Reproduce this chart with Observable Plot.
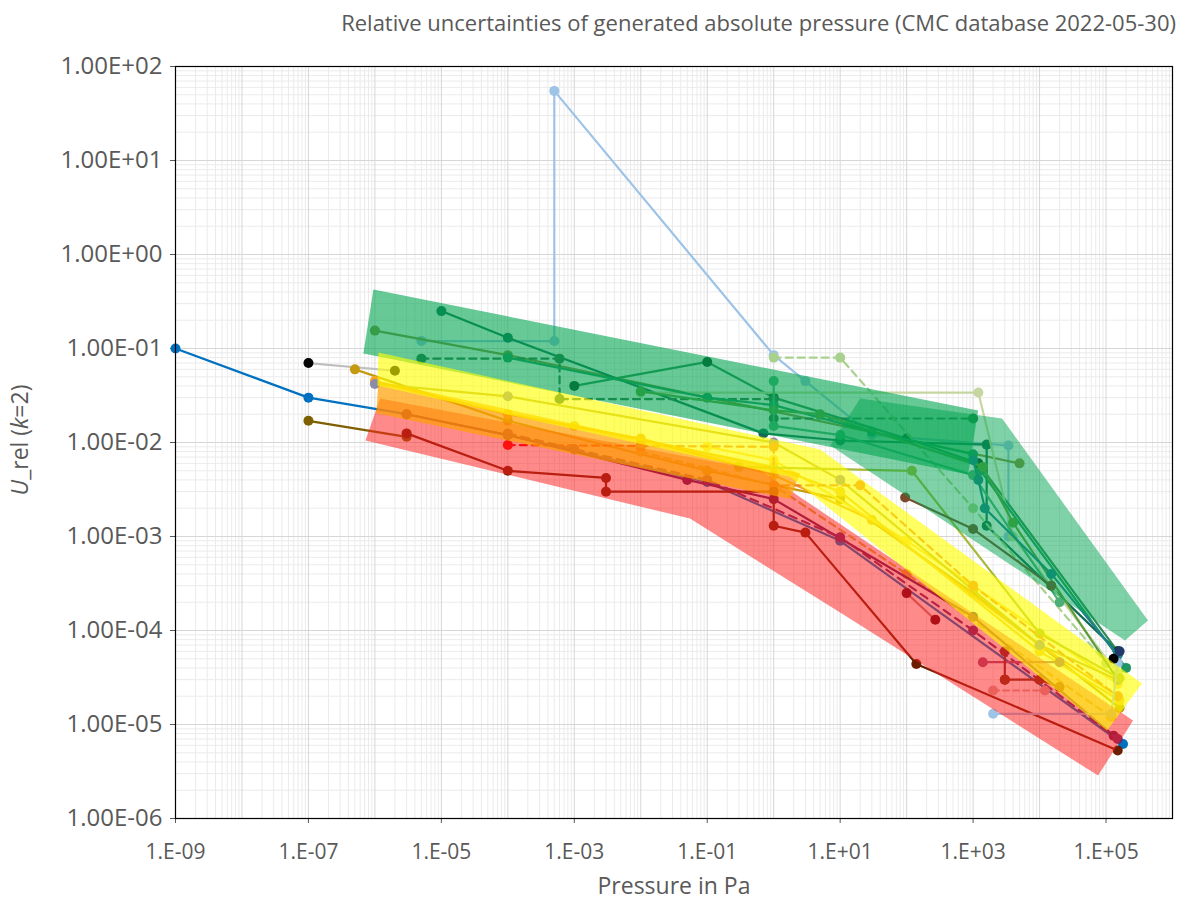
<!DOCTYPE html>
<html>
<head>
<meta charset="utf-8">
<script src="https://cdn.jsdelivr.net/npm/d3@7"></script>
<script src="https://cdn.jsdelivr.net/npm/@observablehq/plot@0.6"></script>
<style>
  html, body { margin: 0; padding: 0; background: #fff; }
  #title { height: 44px; line-height: 44px; text-align: right; padding-right: 8px; white-space: nowrap;
           font-family: "Open Sans", sans-serif; font-size: 22px; color: #595959; box-sizing: border-box; }
</style>
</head>
<body>
<div id="title">Relative uncertainties of generated absolute pressure (CMC database 2022-05-30)</div>
<div id="chart"></div>
<script>
// ---------- axis ticks ----------
const xTickValues = [1e-9, 1e-7, 1e-5, 1e-3, 1e-1, 1e1, 1e3, 1e5];
const xTickLabels = ["1.E-09", "1.E-07", "1.E-05", "1.E-03", "1.E-01", "1.E+01", "1.E+03", "1.E+05"];
const yTickValues = [1e-6, 1e-5, 1e-4, 1e-3, 1e-2, 1e-1, 1e0, 1e1, 1e2];
const yTickLabels = ["1.00E-06", "1.00E-05", "1.00E-04", "1.00E-03", "1.00E-02", "1.00E-01", "1.00E+00", "1.00E+01", "1.00E+02"];

// ---------- uncertainty bands (polygon corners: pressure Pa, U_rel) ----------
const bandGreenA = [[9.5e-7, 0.425], [1190, 0.0219], [840, 0.00457], [6.7e-7, 0.0885]];
const bandGreenB = [[20, 0.0294], [2730, 0.018], [4.28e5, 1.28e-4], [1.93e5, 7.83e-5], [7.1, 0.0093]];
const bandRed    = [[1.2e-6, 0.0294], [0.63, 0.00504], [2.55e5, 1.1e-5], [7.59e4, 2.86e-6], [10, 1.55e-4], [0.055, 0.00155], [7.2e-7, 0.0105]];
const bandOrange = [[1.13e-6, 0.045], [2.5, 0.0047], [1.77, 0.0025], [1.05e-6, 0.0205]];
const bandYellow = [[1.13e-6, 0.0906], [5, 0.00843], [3.48e5, 2.73e-5], [1.035e5, 8.63e-6], [1.77, 0.0043], [1.09e-6, 0.0404]];

// ---------- series (pressure Pa, U_rel k=2) ----------
const sBlue        = [[1e-9, 1e-1], [1e-7, 3e-2], [3e-6, 2e-2], [1e-4, 1.2e-2], [1e-1, 3.8e-3], [10, 9e-4], [1.8e5, 6.2e-6]];
const sPurple      = [[3e-6, 2e-2], [1e-4, 1.2e-2], [5e-2, 4e-3], [1, 2.5e-3], [1e3, 1.4e-4], [1.3e5, 7.6e-6]];
const sPurpleDash  = [[1e-4, 1.25e-2], [1e-3, 8.5e-3], [1e-1, 4e-3], [10, 9.8e-4], [1e3, 1e-4], [1.5e5, 7e-6]];
const sOlive       = [[1e-7, 1.7e-2], [3e-6, 1.15e-2]];
const sBrownRed    = [[3e-6, 1.25e-2], [1e-4, 5e-3], [3e-3, 4.2e-3], [3e-3, 3e-3], [1, 3e-3], [1, 1.3e-3], [3, 1.1e-3], [140, 4.4e-5], [1.5e5, 5.3e-6]];
const sLightBlue   = [[5e-6, 1.2e-1], [5e-4, 1.2e-1], [5e-4, 55], [1, 8.5e-2], [3, 4.5e-2], [30, 1.2e-2], [3.4e3, 9.3e-3], [3.4e3, 1e-3]];
const sTealDark    = [[1e-5, 0.25], [1e-4, 0.13], [0.7, 0.0125], [10, 0.0105], [1.6e3, 0.0095], [1.6e3, 0.0013], [1.5e5, 6e-5]];
const sGreenDark   = [[1e-3, 0.04], [0.1, 0.072], [1, 0.03], [100, 0.011], [1.2e3, 0.006], [1.5e5, 6e-5]];
const sGreenDash   = [[5e-6, 0.078], [6e-4, 0.078], [6e-4, 0.029], [1, 0.029], [1, 0.018], [1e3, 0.018]];
const sLightGreenD = [[1, 0.08], [10, 0.08], [1e3, 0.002], [1e5, 4.5e-5]];
const sPaleGreen   = [[1e-2, 0.034], [1.2e3, 0.034], [4e3, 0.001], [1.5e5, 3.5e-5]];
const sDarkOlive   = [[1e-6, 0.155], [1e-4, 0.085], [5e3, 0.006]];
const sSeaGreen    = [[1e-4, 0.08], [0.1, 0.03], [1, 0.025], [30, 0.013], [1e3, 0.0075], [1.3e3, 0.005], [2e5, 4e-5]];
const sFern        = [[1e-2, 0.035], [1, 0.022], [5, 0.02], [1.4e3, 0.0055], [4e3, 0.0014], [1.5e5, 3e-5]];
const sMidGreen    = [[1, 0.045], [1, 0.015], [10, 0.012], [1e3, 0.0045], [2e4, 2e-4]];
const sTealBlue    = [[1e3, 0.0065], [1.2e3, 0.004], [1.5e3, 0.002], [1.5e4, 4e-4], [1.5e5, 5.5e-5]];
const sBlack       = [[1e-7, 0.07], [2e-6, 0.058]];
const sBlackEnd    = [[1.3e5, 5e-5]];
const sNavyEnd     = [[1.6e5, 6e-5]];
const sGold        = [[5e-7, 0.06], [1e-4, 0.017], [0.1, 0.005], [10, 0.0025], [1e3, 2.5e-4], [1.6e5, 1.5e-5]];
const sOrangeA     = [[1e-6, 0.045], [1e-4, 0.02], [1e-2, 0.011], [1, 0.0045], [30, 0.0015], [1e4, 7e-5], [1.5e5, 2e-5]];
const sYellowA     = [[0.1, 0.009], [1, 0.0065], [100, 9e-4], [1.5e5, 2.7e-5]];
const sYellowB     = [[1e-3, 0.015], [1, 0.0055], [10, 0.003], [1e4, 6e-5], [1.6e5, 1.8e-5]];
const sYellowDash  = [[1e-2, 0.008], [1, 0.0035], [100, 4e-4], [1.2e5, 1.2e-5]];
const sMustard     = [[1e-6, 0.042], [1e-4, 0.031], [1, 0.01], [10, 0.004], [1e4, 7e-5], [1.5e5, 3e-5]];
const sYellowGreen = [[0.3, 0.0055], [120, 0.005], [1e4, 9.3e-5], [1.6e5, 3.1e-5]];
const sRedDash     = [[1e-4, 9.4e-3], [1e-2, 9.2e-3]];
const sOrangeDash  = [[1e-2, 9.2e-3], [1, 9e-3], [1, 3.5e-3], [20, 3.5e-3], [1e3, 3e-4], [1.5e5, 2e-5]];
const sDarkRed     = [[100, 2.5e-4], [270, 1.3e-4]];
const sBrown       = [[95, 0.0026], [1e3, 0.0012], [1.5e4, 3e-4]];
const sPink        = [[1.4e3, 4.6e-5], [2e4, 4.6e-5]];
const sPinkCross   = [[3e3, 6e-5], [3e3, 3e-5]];
const sBrownLow    = [[3e3, 3e-5], [1e4, 3e-5], [2e4, 2.5e-5]];
const sTanDash     = [[2e3, 2.3e-5], [1.2e4, 2.3e-5]];
const sLightBlueLo = [[2e3, 1.3e-5], [1.2e5, 1.3e-5], [1.5e5, 4.5e-5]];

// ---------- styles ----------
const seriesStyle = [
  [sLightBlue, "#9DC3E6", null], [sBlack, "#BFBFBF", null, "#000000"],
  [sDarkOlive, "#8C8C3C", null], [sTealDark, "#126B55", null], [sGreenDark, "#2E8B57", null, "#0B3D26"],
  [sGreenDash, "#2F6B4A", "7,5"], [sLightGreenD, "#A9D18E", "7,5"], [sPaleGreen, "#C5D6A0", null],
  [sSeaGreen, "#1E9463", null], [sFern, "#5E9C3A", null], [sMidGreen, "#4CAF7A", null],
  [sTealBlue, "#1F7F8F", null], [sGold, "#C59A10", null], [sOrangeA, "#F5A623", null],
  [sYellowA, "#FFD54A", null], [sYellowB, "#F2C230", null], [sYellowDash, "#D9B23A", "7,5"],
  [sMustard, "#BDB43A", null, "#8C8CA8"], [sYellowGreen, "#A8B83A", null],
  [sRedDash, "#FF0000", "7,5"], [sOrangeDash, "#ED7D31", "7,5"],
  [sBlue, "#0070C0", null], [sPurple, "#5E1A56", null], [sPurpleDash, "#6E2866", "8,6"],
  [sOlive, "#7F6000", null], [sBrownRed, "#6E1E00", null],
  [sDarkRed, "#C08080", null, "#5A0010"], [sBrown, "#7A4A2A", null],
  [sPink, "#A0507A", null], [sPinkCross, "#7A2A2A", null], [sBrownLow, "#7A3010", null],
  [sTanDash, "#D8A8A0", "6,4"], [sLightBlueLo, "#9DC3E6", null],
  [sBlackEnd, "#000", null], [sNavyEnd, "#1F3A6A", null]
];
const bandStyle = [
  [bandGreenA, "#00A550", 0.6], [bandGreenB, "#00A550", 0.5],
  [bandRed, "#FF1F1F", 0.52], [bandOrange, "#FFA000", 0.7], [bandYellow, "#FFFF00", 0.62]
];

// ---------- grid positions ----------
const minorX = [], majorX = [], minorY = [], majorY = [];
for (let e = -9; e <= 5; e++) { majorX.push(Math.pow(10, e)); for (let k = 2; k <= 9; k++) minorX.push(k * Math.pow(10, e)); }
for (let e = -6; e <= 1; e++) { majorY.push(Math.pow(10, e)); for (let k = 2; k <= 9; k++) minorY.push(k * Math.pow(10, e)); }

const fx = d => d[0], fy = d => d[1];
const marks = [
  Plot.ruleX(minorX, {stroke: "#ebebeb", strokeWidth: 1}),
  Plot.ruleY(minorY, {stroke: "#ebebeb", strokeWidth: 1}),
  Plot.ruleX(majorX, {stroke: "#d6d6d6", strokeWidth: 1}),
  Plot.ruleY(majorY, {stroke: "#d6d6d6", strokeWidth: 1}),
];
for (const [data, color, dash, dotColor] of seriesStyle) {
  if (data.length > 1) marks.push(Plot.line(data, {x: fx, y: fy, stroke: color, strokeWidth: 2.2, strokeDasharray: dash || undefined}));
  marks.push(Plot.dot(data, {x: fx, y: fy, r: 5, fill: dotColor || color, stroke: "none"}));
}
for (const [poly, color, op] of bandStyle) {
  marks.push(Plot.line([...poly, poly[0]], {x: fx, y: fy, fill: color, fillOpacity: op, stroke: "none"}));
}
marks.push(Plot.frame({stroke: "#000", strokeWidth: 1.2}));

const chart = Plot.plot({
  width: 1184, height: 864,
  marginLeft: 175, marginRight: 12, marginTop: 22, marginBottom: 90,
  style: {fontFamily: "Open Sans, sans-serif", fontSize: "21px", color: "#595959", background: "#fff"},
  x: {type: "log", domain: [1e-9, 1e6], ticks: xTickValues, tickFormat: d => xTickLabels[xTickValues.indexOf(d)], tickSize: 5, tickPadding: 21, label: null},
  y: {type: "log", domain: [1e-6, 1e2], ticks: yTickValues, tickFormat: d => yTickLabels[yTickValues.indexOf(d)], tickSize: 5, tickPadding: 8, label: null},
  marks
});
document.getElementById("chart").appendChild(chart);

const svg = d3.select(chart);
svg.selectAll("g[aria-label='y-axis tick label'] text, g[aria-label='y-axis tick label']").style("font-size", "24px");
svg.append("text").attr("x", 674).attr("y", 844).attr("text-anchor", "middle").attr("dominant-baseline", "middle")
  .attr("fill", "#595959").style("font-size", "23px").text("Pressure in Pa");
const yl = svg.append("text").attr("transform", "translate(22,396) rotate(-90)").attr("text-anchor", "middle")
  .attr("dominant-baseline", "middle").attr("fill", "#595959").style("font-size", "23px");
yl.append("tspan").attr("font-style", "italic").text("U");
yl.append("tspan").text("_rel (");
yl.append("tspan").attr("font-style", "italic").text("k");
yl.append("tspan").text("=2)");
</script>
</body>
</html>
